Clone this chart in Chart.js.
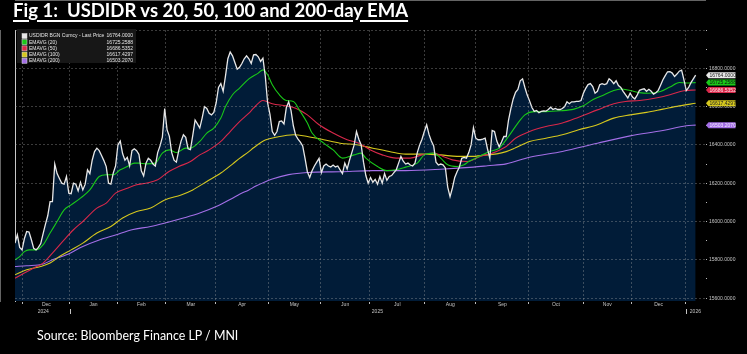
<!DOCTYPE html>
<html>
<head>
<meta charset="utf-8">
<script src="https://cdn.jsdelivr.net/npm/chart.js@4.4.1/dist/chart.umd.min.js"></script>
<style>
html, body { margin: 0; padding: 0; background: #000; width: 747px; height: 354px; overflow: hidden; }
#wrap { position: relative; width: 747px; height: 354px; }
#c { position: absolute; left: 0; top: 0; }
.title { position: absolute; left: 13px; top: -1.5px; color: #fff; font: bold 18.5px Lato, sans-serif; line-height: 1.2; text-decoration: underline; text-decoration-thickness: 1.5px; text-underline-offset: 3px; white-space: pre; }
.source { position: absolute; left: 37px; top: 328.5px; color: #fff; font: 12.4px Lato, sans-serif; line-height: 1.2; white-space: pre; }
</style>
</head>
<body>
<div id="wrap">
  <canvas id="c" width="747" height="354"></canvas>
  <div class="title">Fig 1:  USDIDR vs 20, 50, 100 and 200-day EMA</div>
  <div class="source">Source: Bloomberg Finance LP / MNI</div>
</div>
<script>
// x unit = trading day since 26 Nov 2024
const monthStarts = [3.3, 23.5, 43.7, 64.4, 85.9, 108.3, 130.6, 151.7, 175.2, 197, 219.7, 242.9, 263.5, 286.8]
const monthNames = ['Dec','Jan','Feb','Mar','Apr','May','Jun','Jul','Aug','Sep','Oct','Nov','Dec']
const yearBreaks = [23.5, 286.8]
const yTickValues = [15600,15700,15800,15900,16000,16100,16200,16300,16400,16500,16600,16700,16800,16900,17000]

// USDIDR daily close
const price = [
  15887,15930,15865,15852,15910,15948,15945,15905,15860,15852,15865,15885,15935,15985,16030,16104,16104,16300,16250,16225,
  16200,16195,16235,16148,16145,16200,16195,16160,16205,16165,16195,16270,16250,16320,16365,16383,16370,16345,16318,16287,
  16200,16195,16253,16290,16400,16420,16355,16320,16335,16290,16370,16380,16370,16350,16265,16238,16305,16330,16320,16300,
  16290,16360,16395,16440,16590,16480,16445,16360,16320,16310,16370,16420,16453,16440,16380,16375,16450,16530,16510,16488,
  16540,16600,16590,16565,16557,16570,16620,16700,16720,16680,16760,16850,16885,16865,16830,16795,16805,16825,16850,16865,
  16850,16825,16870,16872,16860,16836,16853,16760,16620,16560,16470,16450,16470,16522,16525,16510,16595,16625,16580,16500,
  16450,16430,16415,16395,16330,16260,16230,16265,16290,16310,16330,16255,16290,16300,16290,16285,16295,16285,16290,16270,
  16250,16305,16275,16320,16360,16400,16470,16430,16400,16310,16240,16200,16230,16205,16220,16195,16235,16200,16250,16215,
  16235,16240,16255,16270,16305,16340,16315,16300,16305,16295,16290,16305,16360,16400,16430,16470,16505,16455,16420,16395,
  16310,16295,16300,16296,16280,16180,16130,16175,16230,16260,16285,16330,16335,16331,16360,16400,16490,16435,16427,16427,
  16430,16435,16380,16330,16475,16470,16420,16390,16415,16444,16444,16530,16590,16640,16675,16690,16735,16745,16700,16660,
  16630,16595,16575,16580,16568,16575,16577,16576,16585,16597,16585,16590,16585,16585,16590,16600,16625,16615,16625,16625,
  16627,16627,16632,16670,16695,16715,16720,16705,16670,16680,16714,16720,16715,16720,16745,16735,16720,16735,16710,16700,
  16680,16662,16645,16670,16650,16640,16660,16685,16690,16693,16680,16690,16680,16665,16672,16685,16712,16740,16762,16782,
  16783,16775,16757,16770,16785,16790,16740,16684,16700,16725,16745,16764
]

const ema20Days = [0,2,4,6,9,12,15,18,21,24,28,32,36,39,42,45,48,51,53,56,60,63,66,69,73,75,79,82,85,88,90,93,96,100,104,106,108,110,113,116,119,122,125,127,132,136,140,145,148,150,155,159,163,167,172,175,179,182,185,189,192,194,197,201,203,207,211,215,218,222,227,233,239,243,247,251,256,259,263,267,271,276,280,284,287,291]
const ema20 = [15800,15817,15843,15852,15852,15878,15940,16000,16061,16087,16122,16165,16235,16244,16244,16270,16287,16305,16305,16301,16305,16357,16374,16360,16383,16383,16418,16462,16488,16540,16600,16662,16697,16745,16775,16792,16766,16714,16662,16632,16627,16574,16514,16462,16409,16374,16331,16348,16357,16331,16287,16266,16270,16284,16305,16348,16357,16331,16296,16287,16296,16313,16331,16355,16366,16383,16444,16514,16557,16574,16574,16578,16587,16604,16636,16657,16684,16692,16684,16673,16670,16679,16702,16726,16723,16725.2588]

const ema50Days = [0,4,8,12,16,21,25,29,35,39,43,48,52,56,61,64,66,70,75,79,83,88,92,96,100,102,106,110,116,120,125,130,136,142,147,152,157,163,169,174,179,183,187,193,199,204,210,214,220,227,234,241,249,256,261,267,274,280,286,291]
const ema50 = [15704,15731,15757,15783,15835,15904,15957,16000,16070,16096,16148,16174,16192,16200,16218,16245,16262,16287,16313,16348,16374,16418,16470,16522,16566,16592,16632,16615,16604,16592,16557,16505,16462,16427,16409,16374,16348,16331,16331,16348,16357,16340,16322,16313,16340,16357,16392,16435,16470,16496,16514,16545,16583,16615,16627,16632,16645,16662,16683,16686.5352]

const ema100Days = [0,5,11,15,19,24,29,35,41,46,52,58,64,71,76,82,88,93,96,100,102,107,112,119,125,132,139,146,153,160,167,174,182,189,196,199,206,210,214,220,227,234,241,249,256,263,270,277,284,291]
const ema100 = [15722,15748,15765,15783,15817,15852,15887,15940,15974,16018,16052,16070,16113,16139,16165,16209,16253,16300,16330,16365,16385,16425,16441,16453,16444,16427,16409,16401,16383,16366,16352,16352,16348,16340,16340,16345,16353,16365,16385,16418,16435,16453,16479,16505,16540,16557,16570,16587,16604,16617.4297]

const ema200Days = [0,5,12,16,22,29,36,43,50,58,65,72,79,86,93,96,100,103,110,117,125,139,153,167,182,196,202,210,220,234,249,263,277,287,291]
const ema200 = [15765,15769,15778,15800,15826,15870,15904,15930,15957,15974,15995,16018,16044,16078,16122,16142,16165,16185,16222,16245,16256,16260,16266,16266,16273,16284,16291,16301,16336,16366,16409,16447,16475,16500,16503.207]

const seriesNames = ['USDIDR BGN Curncy - Last Price','EMAVG (20)','EMAVG (50)','EMAVG (100)','EMAVG (200)']
const seriesColors = ['#e8e8e8','#19c819','#d8284a','#d6c81e','#a36ee6']
const tagText = ['#222','#111','#ffe0e6','#222','#f4eaff']

const monthMids = monthNames.map((_, i) => (monthStarts[i] + monthStarts[i + 1]) / 2)
const pts = (days, vals) => vals.map((v, i) => ({ x: days[i], y: v }))
const lastOf = a => a[a.length - 1]
const lastValues = [lastOf(price), lastOf(ema20), lastOf(ema50), lastOf(ema100), lastOf(ema200)]

const FONT = 'Liberation Sans'
const gridColor = 'rgba(170,170,170,0.35)'

const bbgLegend = {
  id: 'bbgLegend',
  afterDraw(chart) {
    const ctx = chart.ctx
    const a = chart.chartArea
    ctx.save()
    ctx.fillStyle = '#171717'
    ctx.fillRect(a.left + 2, a.top - 1, 119, 34)
    ctx.font = '5px ' + FONT
    ctx.textBaseline = 'middle'
    seriesNames.forEach((name, i) => {
      const y = a.top + 6 + i * 6.2
      ctx.fillStyle = seriesColors[i]
      ctx.fillRect(a.left + 7, y - 2.5, 5, 5)
      ctx.strokeStyle = '#ddd'
      ctx.lineWidth = 0.5
      ctx.strokeRect(a.left + 7, y - 2.5, 5, 5)
      ctx.fillStyle = '#e4e4e4'
      ctx.textAlign = 'left'
      ctx.fillText(name, a.left + 14, y)
      ctx.textAlign = 'right'
      ctx.fillText(lastValues[i].toFixed(4), a.left + 118, y)
    })
    ctx.restore()
  }
}

const bbgTags = {
  id: 'bbgTags',
  afterDraw(chart) {
    const ctx = chart.ctx
    const ys = chart.scales.y
    const x0 = chart.chartArea.right + 2.5
    ctx.save()
    ctx.font = '5px ' + FONT
    ctx.textBaseline = 'middle'
    ctx.textAlign = 'left'
    lastValues.forEach((v, i) => {
      const y = ys.getPixelForValue(v)
      ctx.fillStyle = seriesColors[i]
      ctx.beginPath()
      ctx.moveTo(x0 - 1.5, y)
      ctx.lineTo(x0 + 1, y - 3)
      ctx.lineTo(x0 + 28, y - 3)
      ctx.lineTo(x0 + 28, y + 3)
      ctx.lineTo(x0 + 1, y + 3)
      ctx.closePath()
      ctx.fill()
      ctx.fillStyle = tagText[i]
      ctx.fillText(v.toFixed(4), x0 + 2, y + 0.3)
    })
    ctx.restore()
  }
}

const bbgYears = {
  id: 'bbgYears',
  afterDraw(chart) {
    const ctx = chart.ctx
    const xs = chart.scales.x
    const y = chart.chartArea.bottom + 10.5
    ctx.save()
    ctx.font = '5px ' + FONT
    ctx.fillStyle = '#c4c4c4'
    ctx.textBaseline = 'middle'
    ctx.strokeStyle = '#c4c4c4'
    ctx.lineWidth = 1
    yearBreaks.forEach(d => {
      const px = Math.round(xs.getPixelForValue(d)) + 0.5
      ctx.beginPath(); ctx.moveTo(px, y - 2.5); ctx.lineTo(px, y + 2.5); ctx.stroke()
    })
    ctx.textAlign = 'center'
    ctx.fillText('2024', xs.getPixelForValue(monthMids[0]) - 3, y)
    ctx.textAlign = 'left'
    ctx.fillText('2025', xs.getPixelForValue(monthStarts[7]) + 2, y)
    ctx.fillText('2026', xs.getPixelForValue(yearBreaks[1]) + 4, y)
    ctx.restore()
  }
}

const data = {
  datasets: [
    { label: seriesNames[0], data: price.map((v, i) => ({ x: i, y: v })), borderColor: seriesColors[0], backgroundColor: '#011c38', borderWidth: 1.3, fill: 'start', tension: 0 },
    { label: seriesNames[1], data: pts(ema20Days, ema20), borderColor: seriesColors[1], borderWidth: 1.1, fill: false, cubicInterpolationMode: 'monotone' },
    { label: seriesNames[2], data: pts(ema50Days, ema50), borderColor: seriesColors[2], borderWidth: 1.1, fill: false, cubicInterpolationMode: 'monotone' },
    { label: seriesNames[3], data: pts(ema100Days, ema100), borderColor: seriesColors[3], borderWidth: 1.1, fill: false, cubicInterpolationMode: 'monotone' },
    { label: seriesNames[4], data: pts(ema200Days, ema200), borderColor: seriesColors[4], borderWidth: 1.1, fill: false, cubicInterpolationMode: 'monotone' },
  ].map(d => Object.assign(d, { pointRadius: 0, xAxisID: 'x', yAxisID: 'y' })),
}

const config = {
  type: 'line',
  data: data,
  options: {
    responsive: false,
    animation: false,
    devicePixelRatio: 1,
    layout: { padding: { left: 15, top: 30, right: 0, bottom: 0 } },
    plugins: {
      legend: { display: false },
      tooltip: { enabled: false },
      filler: { drawTime: 'beforeDatasetsDraw' },
    },
    scales: {
      x: {
        type: 'linear', min: 0, max: 295, weight: 0,
        afterBuildTicks: s => { s.ticks = monthStarts.map(v => ({ value: v })) },
        afterFit: s => { s.height = 0 },
        ticks: { display: false },
        grid: { color: gridColor, z: 1, tickColor: '#bbb', tickLength: 3 },
        border: { color: '#c8c8c8', dash: [2, 2] },
      },
      xm: {
        type: 'linear', position: 'bottom', min: 0, max: 295, weight: 1,
        afterBuildTicks: s => { s.ticks = monthMids.map(v => ({ value: v })) },
        afterFit: s => { s.height = 53 },
        ticks: { autoSkip: false, maxRotation: 0, padding: 1, color: '#c4c4c4', font: { family: FONT, size: 5 }, callback: (v, i) => monthNames[i] },
        grid: { display: false, drawTicks: false },
        border: { display: false },
      },
      y: {
        type: 'linear', position: 'right', min: 15585, max: 17000,
        afterBuildTicks: s => { s.ticks = yTickValues.map(v => ({ value: v })) },
        afterFit: s => { s.width = 42 },
        ticks: { padding: 2, color: '#c4c4c4', font: { family: FONT, size: 5 }, callback: v => (v % 200 === 0 && v < 17000) ? v.toFixed(4) : '' },
        grid: { z: 1, color: c => (c.tick && c.tick.value % 200 === 0) ? gridColor : 'transparent', tickColor: '#bbb', tickLength: 2 },
        border: { color: '#c8c8c8', dash: [2, 2] },
      },
      yl: {
        type: 'linear', position: 'left',
        afterFit: s => { s.width = 0 },
        ticks: { display: false },
        grid: { display: false, drawTicks: false },
        border: { color: '#c8c8c8' },
      },
    },
  },
  plugins: [bbgLegend, bbgTags, bbgYears],
}

const canvas = document.getElementById('c')
const chart = new Chart(canvas, config)
</script>
</body>
</html>
